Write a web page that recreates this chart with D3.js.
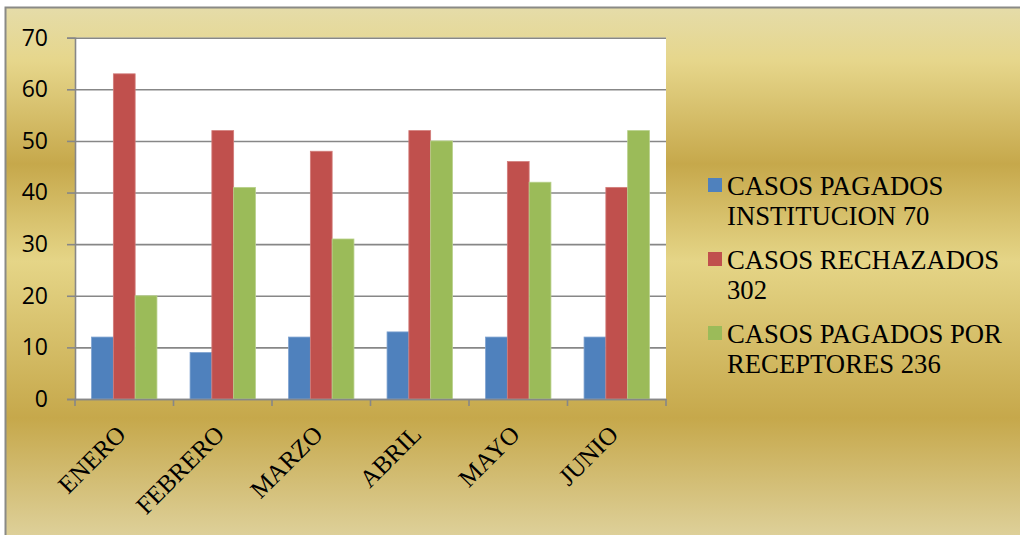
<!DOCTYPE html>
<html>
<head>
<meta charset="utf-8">
<script src="https://cdn.jsdelivr.net/npm/d3@7"></script>
<style>
  body { margin: 0; background: #fff; }
  svg { display: block; }
</style>
</head>
<body>
<svg width="1020" height="535"></svg>
<script>
// months on the x axis
const months = ["ENERO", "FEBRERO", "MARZO", "ABRIL", "MAYO", "JUNIO"];

// one list per series
const pagadosInstitucion = [12, 9, 12, 13, 12, 12];
const rechazados = [63, 52, 48, 52, 46, 41];
const pagadosReceptores = [20, 41, 31, 50, 42, 52];

const seriesNames = [
  ["CASOS PAGADOS", "INSTITUCION 70"],
  ["CASOS RECHAZADOS", "302"],
  ["CASOS PAGADOS POR", "RECEPTORES 236"],
];
const seriesColors = ["#4f81bd", "#c0504d", "#9bbb59"];
const strokeColors = ["#7ea2d0", "#d27d7a", "#b7d08a"];
const yTicks = [0, 10, 20, 30, 40, 50, 60, 70];

const allSeries = [pagadosInstitucion, rechazados, pagadosReceptores];

const svg = d3.select("svg");

// gold metallic background
const defs = svg.append("defs");
const grad = defs.append("linearGradient")
  .attr("id", "gold")
  .attr("x1", 0).attr("y1", 0).attr("x2", 0).attr("y2", 1);
[
  [0, "#e5dca9"],
  [0.1, "#e6d68b"],
  [0.29, "#c6a84b"],
  [0.47, "#e5d587"],
  [0.76, "#c6a84b"],
  [1, "#e0d4a1"],
].forEach(s => grad.append("stop").attr("offset", s[0]).attr("stop-color", s[1]));

svg.append("rect")
  .attr("x", 5.5).attr("y", 7.5)
  .attr("width", 1030).attr("height", 540)
  .attr("fill", "url(#gold)")
  .attr("stroke", "#8a8a86")
  .attr("stroke-width", 2);

const plot = { left: 75, right: 666, top: 37.7, bottom: 399 };

const x = d3.scaleBand()
  .domain(months)
  .range([plot.left, plot.right]);

const xInner = d3.scaleBand()
  .domain([0, 1, 2])
  .range([0, x.bandwidth()])
  .paddingInner(0)
  .paddingOuter(0.76);

const y = d3.scaleLinear()
  .domain([0, 70])
  .range([plot.bottom, plot.top]);

// white plot area
svg.append("rect")
  .attr("x", plot.left).attr("y", plot.top)
  .attr("width", plot.right - plot.left)
  .attr("height", plot.bottom - plot.top)
  .attr("fill", "#fff");

// gridlines
svg.append("g")
  .attr("transform", `translate(${plot.left},0)`)
  .call(d3.axisLeft(y).tickValues(yTicks).tickSize(-(plot.right - plot.left)).tickFormat(""))
  .call(g => g.select(".domain").remove())
  .selectAll(".tick line")
  .attr("stroke", "#878787")
  .attr("stroke-width", 1.6);

// bars
months.forEach((m, i) => {
  allSeries.forEach((s, k) => {
    svg.append("rect")
      .attr("x", x(m) + xInner(k))
      .attr("y", y(s[i]))
      .attr("width", xInner.bandwidth())
      .attr("height", y(0) - y(s[i]))
      .attr("fill", seriesColors[k])
      .attr("stroke", strokeColors[k])
      .attr("stroke-width", 0.8);
  });
});

// y axis
const yAxisG = svg.append("g")
  .attr("transform", `translate(${plot.left},0)`)
  .call(d3.axisLeft(y).tickValues(yTicks).tickSize(8).tickPadding(19));
yAxisG.select(".domain").attr("stroke", "#878787").attr("stroke-width", 1.6);
yAxisG.selectAll(".tick line").attr("stroke", "#878787").attr("stroke-width", 1.6);
yAxisG.selectAll(".tick text")
  .attr("fill", "#000")
  .style("font-family", "'Open Sans', sans-serif")
  .style("font-size", "23px");

// x axis
const xAxisG = svg.append("g")
  .attr("transform", `translate(0,${plot.bottom})`)
  .call(d3.axisBottom(x).tickSize(0).tickFormat(""));
xAxisG.select(".domain").attr("stroke", "#878787").attr("stroke-width", 1.6);

// category boundary ticks
svg.append("g")
  .selectAll("line")
  .data(d3.range(months.length + 1))
  .join("line")
  .attr("x1", d => plot.left + d * x.step())
  .attr("x2", d => plot.left + d * x.step())
  .attr("y1", plot.bottom)
  .attr("y2", plot.bottom + 7)
  .attr("stroke", "#878787")
  .attr("stroke-width", 1.6);

// rotated month labels
svg.append("g")
  .selectAll("text")
  .data(months)
  .join("text")
  .attr("transform", d => `translate(${x(d) + x.bandwidth() / 2 + 3},${plot.bottom + 37}) rotate(-45)`)
  .attr("text-anchor", "end")
  .style("font-family", "'Liberation Serif', 'Times New Roman', serif")
  .style("font-size", "25px")
  .attr("fill", "#000")
  .text(d => d);

// legend
const legend = svg.append("g").attr("transform", "translate(708,0)");
const legendTop = [195, 269, 343];
seriesNames.forEach((lines, k) => {
  legend.append("rect")
    .attr("x", 0)
    .attr("y", legendTop[k] - 17)
    .attr("width", 14)
    .attr("height", 14)
    .attr("fill", seriesColors[k]);
  const t = legend.append("text")
    .attr("x", 19)
    .attr("y", legendTop[k])
    .style("font-family", "'Liberation Serif', 'Times New Roman', serif")
    .style("font-size", "26.7px")
    .attr("fill", "#000");
  lines.forEach((ln, j) => {
    t.append("tspan").attr("x", 19).attr("dy", j === 0 ? 0 : 30).text(ln);
  });
});
</script>
</body>
</html>
